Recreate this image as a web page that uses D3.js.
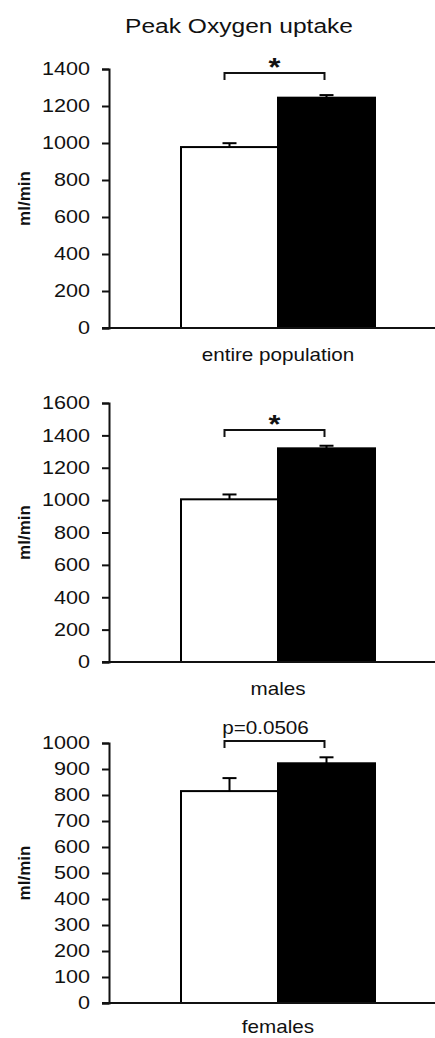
<!DOCTYPE html>
<html>
<head>
<meta charset="utf-8">
<script src="https://cdn.jsdelivr.net/npm/d3@7"></script>
<style>
  html, body { margin: 0; padding: 0; background: #fff; }
  svg { display: block; }
  text { font-family: "Liberation Sans", Arial, sans-serif; fill: #111; }
</style>
</head>
<body>
<svg id="chart" width="435" height="1038"></svg>
<script>
(function (d3, undefined) {
    'use strict';

    // data
    var groups = ['control', 'trained'];
    var panelLabels = ['entire population', 'males', 'females'];
    var entireMeans = [978, 1245],
        entireErrors = [21, 14];
    var maleMeans = [1005, 1320],
        maleErrors = [30, 16];
    var femaleMeans = [815, 922],
        femaleErrors = [50, 23];
    var axisMax = [1400, 1600, 1000],
        axisStep = [200, 200, 100];
    var sigLabels = ['*', '*', 'p=0.0506'];
    var sigLevels = [1378, 1433, 1008];

    var means = [entireMeans, maleMeans, femaleMeans],
        errors = [entireErrors, maleErrors, femaleErrors];

    // layout
    var width = 435,
        height = 1038,
        axisX = 109,
        stretch = 1.18,
        panels = [
            { top: 69, bottom: 328 },
            { top: 403, bottom: 662 },
            { top: 743, bottom: 1003 }
        ];

    var svg = d3.select('#chart');

    svg.append('text')
        .attr('transform', 'translate(239,33) scale(1.17,1)')
        .attr('text-anchor', 'middle')
        .style('font-size', '21px')
        .text('Peak Oxygen uptake');

    var x = d3.scaleBand()
        .domain(groups)
        .range([181, 375])
        .paddingInner(0);

    function drawPanel(i) {
        var p = panels[i];
        var y = d3.scaleLinear()
            .domain([0, axisMax[i]])
            .range([p.bottom, p.top]);

        var g = svg.append('g');

        var rows = groups.map(function (k, j) {
            return { key: k, mean: means[i][j], err: errors[i][j] };
        });

        // bars
        g.selectAll('.bar')
            .data(rows)
            .enter()
            .append('rect')
            .attr('class', 'bar')
            .attr('x', function (d) { return x(d.key); })
            .attr('y', function (d) { return y(d.mean); })
            .attr('width', x.bandwidth())
            .attr('height', function (d) { return y(0) - y(d.mean); })
            .style('fill', function (d, j) { return j === 0 ? '#fff' : '#000'; })
            .style('stroke', '#000')
            .style('stroke-width', 2);

        // error bars (upper only)
        var eb = g.selectAll('.err')
            .data(rows)
            .enter()
            .append('g')
            .attr('class', 'err');
        eb.append('line')
            .attr('x1', function (d) { return x(d.key) + x.bandwidth() / 2; })
            .attr('x2', function (d) { return x(d.key) + x.bandwidth() / 2; })
            .attr('y1', function (d) { return y(d.mean); })
            .attr('y2', function (d) { return y(d.mean + d.err); })
            .style('stroke', '#000')
            .style('stroke-width', 2);
        eb.append('line')
            .attr('x1', function (d) { return x(d.key) + x.bandwidth() / 2 - 7; })
            .attr('x2', function (d) { return x(d.key) + x.bandwidth() / 2 + 7; })
            .attr('y1', function (d) { return y(d.mean + d.err); })
            .attr('y2', function (d) { return y(d.mean + d.err); })
            .style('stroke', '#000')
            .style('stroke-width', 2);

        // y axis
        var ticks = d3.range(0, axisMax[i] + 1, axisStep[i]);
        var ax = g.append('g')
            .attr('transform', 'translate(' + axisX + ',0)')
            .call(d3.axisLeft(y).tickValues(ticks).tickSize(7).tickFormat(d3.format('d')));
        ax.select('.domain').style('stroke', '#111').style('stroke-width', 2);
        ax.selectAll('.tick line').style('stroke', '#111').style('stroke-width', 2);
        ax.selectAll('.tick text')
            .attr('x', null)
            .attr('transform', 'translate(-19,0) scale(1.2,1)')
            .style('font-size', '18px')
            .style('font-family', '"Liberation Sans", Arial, sans-serif')
            .style('fill', '#111');

        // x axis line
        g.append('line')
            .attr('x1', axisX - 7)
            .attr('x2', width)
            .attr('y1', y(0))
            .attr('y2', y(0))
            .style('stroke', '#111')
            .style('stroke-width', 2);

        // y axis title
        g.append('text')
            .attr('transform', 'translate(30,' + ((p.top + p.bottom) / 2) + ') rotate(-90)')
            .attr('text-anchor', 'middle')
            .style('font-size', '17px')
            .style('font-weight', 'bold')
            .text('ml/min');

        // category label
        var ly = Math.min(y(0) + 33, height - 5);
        g.append('text')
            .attr('transform', 'translate(' + (x.range()[0] + x.range()[1]) / 2 + ',' + ly + ') scale(' + stretch + ',1)')
            .attr('text-anchor', 'middle')
            .style('font-size', '17.5px')
            .text(panelLabels[i]);

        // significance bracket
        var bx1 = x(groups[0]) + x.bandwidth() / 2 - 5,
            bx2 = x(groups[1]) + x.bandwidth() / 2 - 2,
            by = y(sigLevels[i]);
        g.append('path')
            .attr('d', 'M' + bx1 + ',' + (by + 7) + 'V' + by + 'H' + bx2 + 'V' + (by + 7))
            .style('fill', 'none')
            .style('stroke', '#111')
            .style('stroke-width', 2);

        var star = sigLabels[i] === '*';
        g.append('text')
            .attr('transform', 'translate(' + (star ? (bx1 + bx2) / 2 : (bx1 + bx2) / 2 - 9) + ',' + (star ? by + 3 : by - 7) + ') scale(' + stretch + ',1)')
            .attr('text-anchor', 'middle')
            .style('font-size', star ? '26px' : '17.5px')
            .style('font-weight', star ? 'bold' : 'normal')
            .text(sigLabels[i]);
    }

    panels.forEach(function (p, i) { drawPanel(i); });
})(d3);
</script>
</body>
</html>
